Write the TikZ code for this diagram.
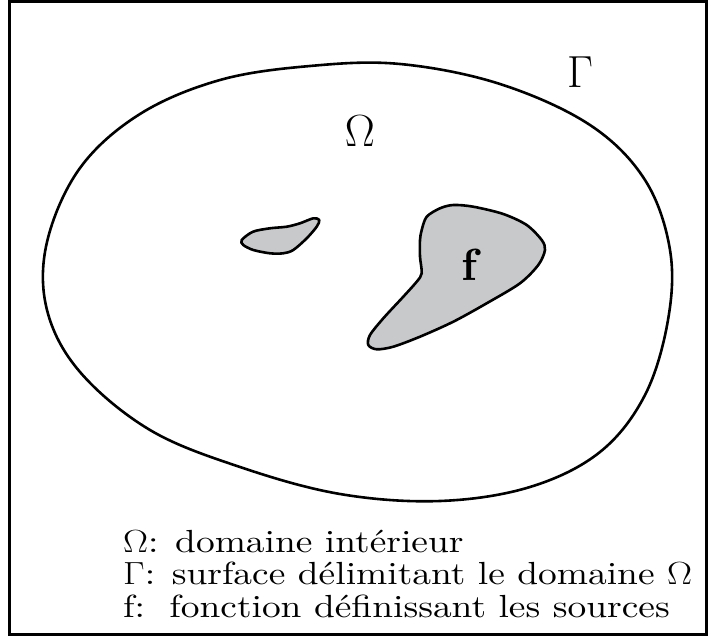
\RequirePackage{fix-cm}
\documentclass[tikz,border=0pt]{standalone}
\usepackage{fontspec}
\newfontfamily\legfont{lmroman10-regular}[Extension=.otf]
\newfontfamily\boldlabfont{lmroman10-bold}[Extension=.otf]
\definecolor{blobgray}{RGB}{200,201,203}
\begin{document}
\begin{tikzpicture}[x=1pt,y=-1pt,
  contour/.style={line width=2.6pt, line join=round},
  blobshape/.style={contour, fill=blobgray},
  biglabel/.style={font=\fontsize{45}{54}\selectfont, inner sep=0pt, anchor=base},
  legendline/.style={font=\legfont\fontsize{32}{38}\selectfont, inner sep=0pt, anchor=base west}]
\useasboundingbox (0,0) rectangle (712,639);
% frame
\draw[line width=3pt] (9.5,1.5) rectangle (706,634);
% outer boundary Gamma
\draw[contour] plot[smooth cycle, tension=0.6] coordinates {
  (400,64) (500,84) (590,125) (645,180) (670,250) (668,320) (645,395)
  (600,452) (530,487) (440,501) (340,494) (240,467) (150,430) (80,372)
  (47,310) (47,242) (80,168) (140,114) (220,80) (310,66)};
% small blob
\draw[blobshape] plot[smooth cycle, tension=0.5] coordinates {
  (241.7,240) (253,231.7) (270,228.3) (286.7,226.7) (300,223.3) (313.3,218.3)
  (319.3,220) (316.7,226.7) (306.7,238.3) (293.3,250) (283.3,253.3)
  (270,253.3) (253.3,250) (243.3,245)};
% large blob
\draw[blobshape] plot[smooth cycle, tension=0.5] coordinates {
  (421.7,230) (426.7,216.7) (440,208.3) (453.3,205) (473.3,206.7) (503.3,214)
  (526.7,225) (541.7,240) (545,250) (538.3,265) (520,283.3) (486.7,303.3)
  (453.3,321.7) (420,336.7) (393.3,346.7) (376.7,349.3) (368.3,345) (370,335)
  (383.3,318.3) (403.3,296.7) (416.7,281.7) (421.7,273.3) (420,256.7) (420,240)};
% labels
\node[biglabel] (omegalab) at (360,147) {$\Omega$};
\node[biglabel] (gammalab) at (580,88) {$\Gamma$};
\node[biglabel, font=\boldlabfont\fontsize{45}{54}\selectfont] (flab) at (469,280) {f};
% legend
\node[legendline] (leg1) at (123,552) {\scalebox{1.17}[1]{$\Omega$: domaine intérieur}};
\node[legendline] (leg2) at (123,584.5) {\scalebox{1.17}[1]{$\Gamma$: surface délimitant le domaine $\Omega$}};
\node[legendline] (leg3) at (123,617) {\scalebox{1.17}[1]{\makebox[1.236em][l]{f:}fonction définissant les sources}};
\end{tikzpicture}
\end{document}
